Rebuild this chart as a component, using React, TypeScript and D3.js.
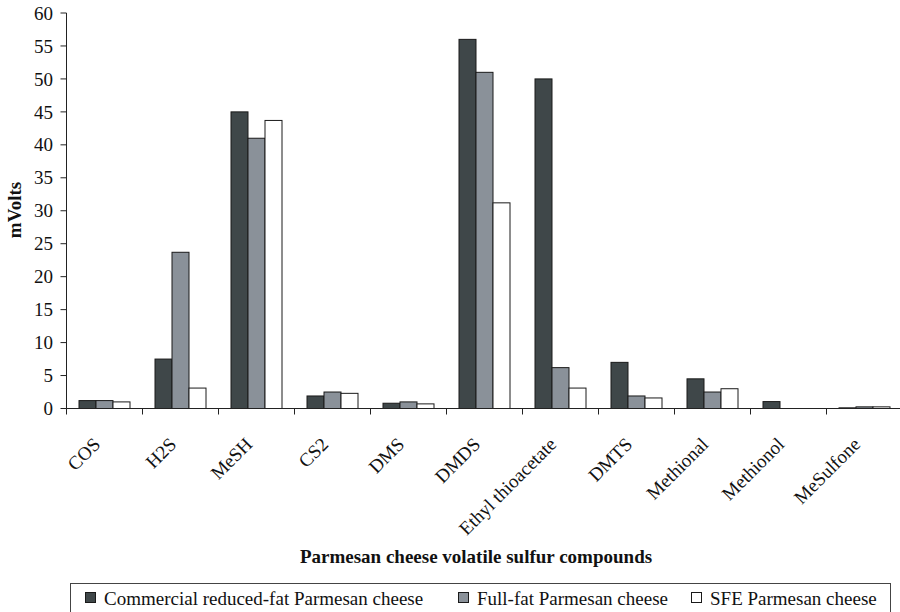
import React from "react";
import * as d3 from "d3";

const categories = ["COS", "H2S", "MeSH", "CS2", "DMS", "DMDS", "Ethyl thioacetate", "DMTS", "Methional", "Methionol", "MeSulfone"];
const seriesNames = ["Commercial reduced-fat Parmesan cheese", "Full-fat Parmesan cheese", "SFE Parmesan cheese"];
const commercial = [1.2, 7.5, 45, 1.9, 0.8, 56, 50, 7.0, 4.5, 1.05, 0.1];
const fullFat = [1.2, 23.7, 41, 2.5, 1.0, 51, 6.2, 1.9, 2.5, 0, 0.25];
const sfe = [1.0, 3.1, 43.7, 2.3, 0.7, 31.2, 3.1, 1.6, 3.0, 0, 0.25];
const yTicks = [0, 5, 10, 15, 20, 25, 30, 35, 40, 45, 50, 55, 60];
const colors = ["#3f4749", "#8a9199", "#ffffff"];

export default function App() {
  const W = 900, H = 612;
  const left = 66.5, right = 902.5, top = 13, bottom = 408.5;
  const x = d3.scaleBand<string>().domain(categories).range([left, right]).paddingInner(0).paddingOuter(0);
  const inner = d3.scaleBand<string>().domain(["0", "1", "2"]).range([12.5, x.bandwidth() - 12.5]).padding(0);
  const y = d3.scaleLinear().domain([0, 60]).range([bottom, top]);
  const series = [commercial, fullFat, sfe];
  const font = "'Liberation Serif', 'Times New Roman', serif";
  const legendItems = [{ x: 85 }, { x: 458 }, { x: 691 }];
  const fs = 19;
  return (
    <svg width={W} height={H} style={{ position: "absolute", left: 0, top: 0 }} fontFamily={font}>
      <rect x={0} y={0} width={W} height={H} fill="#fff" />
      {series.map((vals, si) =>
        vals.map((v, ci) => {
          const bx = (x(categories[ci]) as number) + (inner(String(si)) as number);
          return (
            <rect key={`${si}-${ci}`} x={bx} y={y(v)} width={inner.bandwidth()} height={bottom - y(v)}
              fill={colors[si]} stroke="#1a1a1a" strokeWidth={1} />
          );
        })
      )}
      {/* y axis */}
      <line x1={left} x2={left} y1={top} y2={bottom} stroke="#222" strokeWidth={1} />
      {yTicks.map((t) => (
        <g key={t}>
          <line x1={left - 6} x2={left} y1={y(t)} y2={y(t)} stroke="#222" />
          <text x={53} y={y(t)} dy="0.35em" textAnchor="end" fontSize={fs} fill="#111">{t}</text>
        </g>
      ))}
      {/* x axis */}
      <line x1={left} x2={right} y1={bottom} y2={bottom} stroke="#222" strokeWidth={1} />
      {categories.map((c) => (
        <line key={c} x1={x(c) as number} x2={x(c) as number} y1={bottom} y2={bottom + 6} stroke="#222" />
      ))}
      {categories.map((c) => {
        const cx = (x(c) as number) + x.bandwidth() / 2;
        return (
          <text key={c} transform={`translate(${cx - 3},${bottom + 37}) rotate(-45)`} textAnchor="end" fontSize={fs} fill="#111">{c}</text>
        );
      })}
      <text transform={`translate(21,210) rotate(-90)`} textAnchor="middle" fontWeight="bold" fontSize={fs} fill="#111">mVolts</text>
      <text x={476} y={563} textAnchor="middle" fontWeight="bold" fontSize={fs} fill="#111">Parmesan cheese volatile sulfur compounds</text>
      {/* legend */}
      <rect x={70.5} y={583.5} width={820} height={30} fill="none" stroke="#444" />
      {seriesNames.map((n, i) => (
        <g key={n}>
          <rect x={legendItems[i].x + 0.5} y={592.5} width={10} height={10} fill={colors[i]} stroke="#1a1a1a" />
          <text x={legendItems[i].x + 19} y={605} fontSize={fs} fill="#111">{n}</text>
        </g>
      ))}
    </svg>
  );
}
